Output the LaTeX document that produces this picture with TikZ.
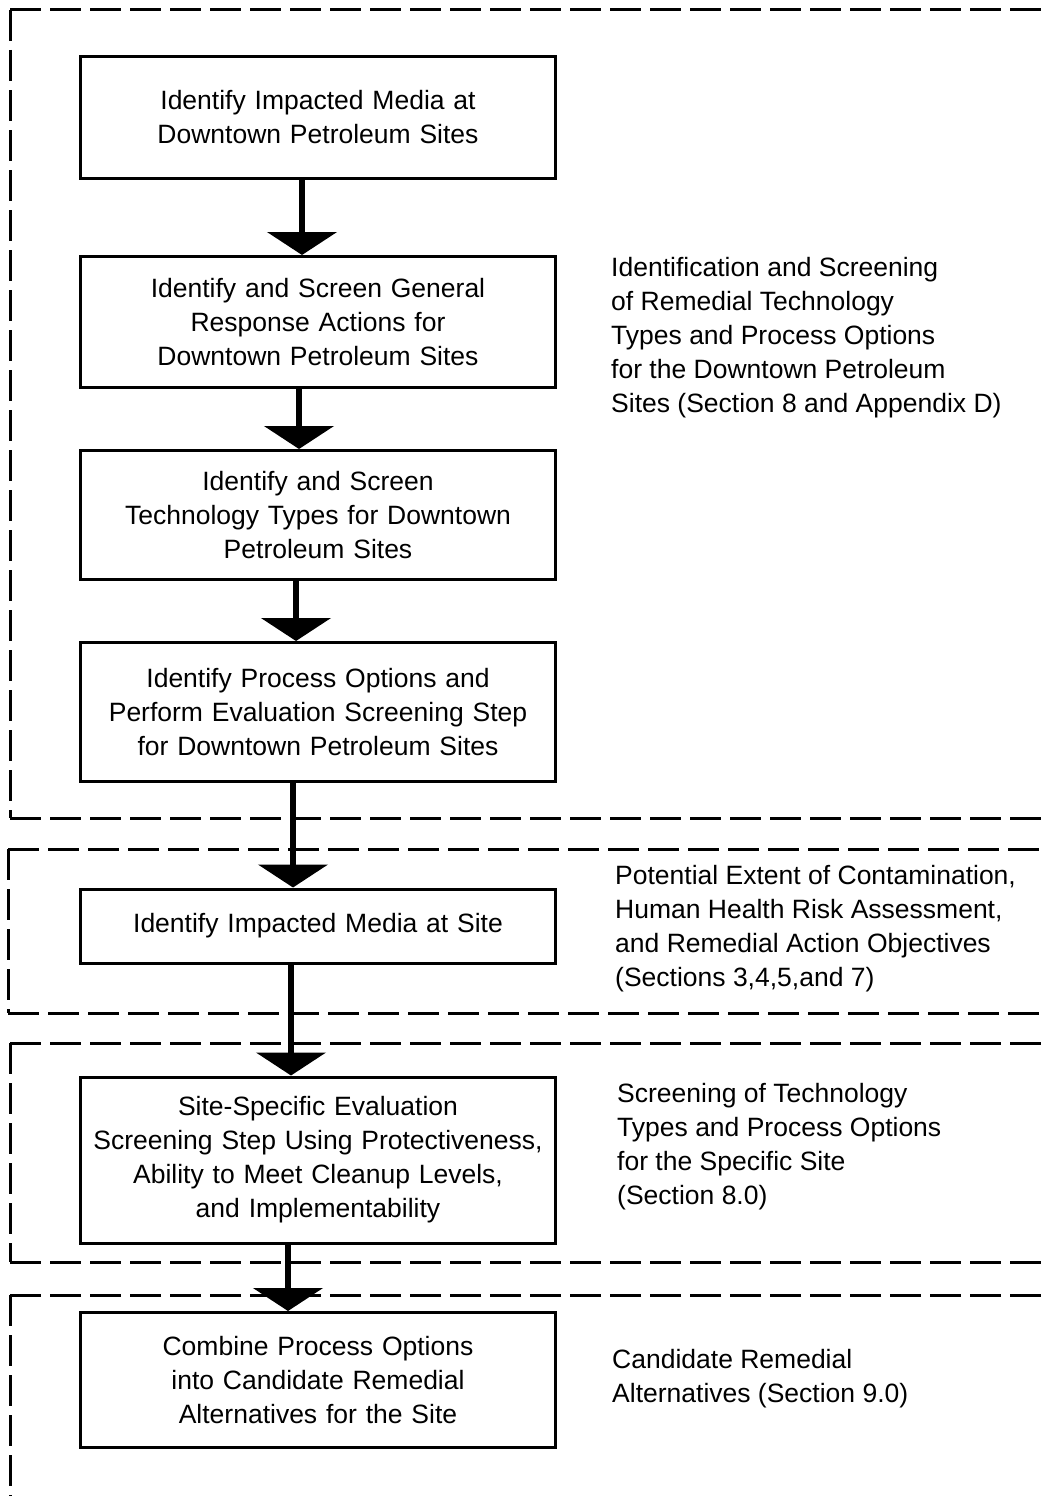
\documentclass[tikz,border=0pt]{standalone}
\usepackage{fontspec}
\setmainfont{Liberation Sans}
\usetikzlibrary{arrows.meta,positioning}

\begin{document}
\begin{tikzpicture}[x=1pt,y=-1pt,
every node/.style={font=\fontsize{26.5}{34}\selectfont},
stepbox/.style={draw,rectangle,line width=3pt,align=center,minimum width=475pt,text width=455pt,inner sep=0pt},
note/.style={anchor=west,align=left,inner sep=0pt},
flow/.style={line width=6pt,-{Triangle[width=69pt,length=23pt]}},
region/.style={line width=3pt,dash pattern=on 31pt off 9pt}]
\useasboundingbox (0,0) rectangle (1044,1496);

% dashed regions, open to the right
\draw[region] (10,10) -- (1044,10) (10,10) -- (10,818) (10,818) -- (1044,818);
\draw[region] (8,849) -- (1044,849) (8,849) -- (8,1013) (8,1013) -- (1044,1013);
\draw[region] (10,1043) -- (1044,1043) (10,1043) -- (10,1262) (10,1262) -- (1044,1262);
\draw[region] (10,1295) -- (1044,1295) (10,1295) -- (10,1496);

\node(b1) [stepbox,minimum height=121pt] at (318,117.5) {Identify Impacted Media at\\Downtown Petroleum Sites};
\node(b2) [stepbox,minimum height=131pt,below of=b1,node distance=204.5pt] {Identify and Screen General\\Response Actions for\\Downtown Petroleum Sites};
\node(b3) [stepbox,minimum height=129pt,below of=b2,node distance=193pt] {Identify and Screen\\Technology Types for Downtown\\Petroleum Sites};
\node(b4) [stepbox,minimum height=139pt,below of=b3,node distance=197pt] {Identify Process Options and\\Perform Evaluation Screening Step\\for Downtown Petroleum Sites};
\node(b5) [stepbox,minimum height=74pt,below of=b4,node distance=214pt] {Identify Impacted Media at Site};
\node(b6) [stepbox,minimum height=166pt,below of=b5,node distance=234pt] {Site-Specific Evaluation\\Screening Step Using Protectiveness,\\Ability to Meet Cleanup Levels,\\and Implementability};
\node(b7) [stepbox,minimum height=135pt,below of=b6,node distance=220pt] {Combine Process Options\\into Candidate Remedial\\Alternatives for the Site};

\node(n1) [note] at (611,338) {Identification and Screening\\of Remedial Technology\\Types and Process Options\\for the Downtown Petroleum\\Sites (Section 8 and Appendix D)};
\node(n2) [note] at (615,929) {Potential Extent of Contamination,\\Human Health Risk Assessment,\\and Remedial Action Objectives\\(Sections 3,4,5,and 7)};
\node(n3) [note] at (617,1147) {Screening of Technology\\Types and Process Options\\for the Specific Site\\(Section 8.0)};
\node(n4) [note] at (612,1379) {Candidate Remedial\\Alternatives (Section 9.0)};

\draw[flow] ([xshift=-16pt]b1.south) -- ([xshift=-16pt]b2.north);
\draw[flow] ([xshift=-19pt]b2.south) -- ([xshift=-19pt]b3.north);
\draw[flow] ([xshift=-22pt]b3.south) -- ([xshift=-22pt]b4.north);
\draw[flow] ([xshift=-25pt]b4.south) -- ([xshift=-25pt]b5.north);
\draw[flow] ([xshift=-27pt]b5.south) -- ([xshift=-27pt]b6.north);
\draw[flow] ([xshift=-30pt]b6.south) -- ([xshift=-30pt]b7.north);
\end{tikzpicture}
\end{document}
